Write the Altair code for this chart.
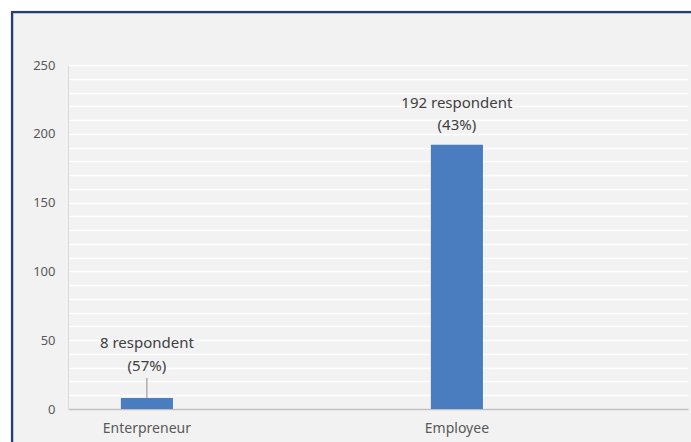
import altair as alt
import pandas as pd

categories = ["Enterpreneur", "Employee"]
values = [8, 192]
line1 = ["8 respondent", "192 respondent"]
line2 = ["(57%)", "(43%)"]

df = pd.DataFrame({
    "cat": categories,
    "value": values,
    "label": [a + "\n" + b for a, b in zip(line1, line2)],
})

FONT = "Noto Sans"
LABEL_COLOR = "#595959"

xscale = alt.Scale(domain=categories, paddingInner=0.832, paddingOuter=0.416, align=0.205)
yscale = alt.Scale(domain=[0, 250], nice=False)

x_axis = alt.Axis(title=None, labelAngle=0, labelFont=FONT, labelFontSize=14,
                  labelColor=LABEL_COLOR, labelPadding=12, ticks=False,
                  domainColor="#bfbfbf", domainWidth=1.5, grid=False)
y_axis = alt.Axis(title=None, values=list(range(0, 251, 10)),
                  labelExpr="datum.value % 50 == 0 ? datum.label : ''",
                  labelOverlap=False,
                  labelFont=FONT, labelFontSize=13, labelColor=LABEL_COLOR,
                  labelPadding=13, ticks=False, domainColor="#d9d9d9",
                  gridColor="#ffffff", gridWidth=1.5)

X = alt.X("cat:N", scale=xscale, sort=categories, axis=x_axis)
Y = alt.Y("value:Q", scale=yscale, axis=y_axis)

deco = alt.Data(values=[{"a": 1}])
frame = alt.Chart(deco).mark_rect(
    fill="#f2f2f2", fillOpacity=0, stroke="#243f74", strokeWidth=2.5, clip=False
).encode(
    x=alt.value(-56), x2=alt.value(720), y=alt.value(-53), y2=alt.value(420)
)
white_left = alt.Chart(deco).mark_rect(fill="white", clip=False).encode(
    x=alt.value(-70), x2=alt.value(-57.3), y=alt.value(-70), y2=alt.value(420)
)
white_top = alt.Chart(deco).mark_rect(fill="white", clip=False).encode(
    x=alt.value(-70), x2=alt.value(720), y=alt.value(-70), y2=alt.value(-54.3)
)

base = alt.Chart(df)

bars = base.mark_bar(color="#4a7dbf").encode(x=X, y=Y)

text_emp = base.transform_filter(alt.datum.cat == "Employee").mark_text(
    font=FONT, fontSize=15, color="#404040", baseline="middle", lineBreak="\n",
    lineHeight=22, dy=-42
).encode(x=X, y=Y, text="label:N")

text_ent = base.transform_filter(alt.datum.cat == "Enterpreneur").mark_text(
    font=FONT, fontSize=15, color="#404040", baseline="middle", lineBreak="\n",
    lineHeight=23, dy=-55
).encode(x=X, y=Y, text="label:N")

leader = base.transform_filter(alt.datum.cat == "Enterpreneur").transform_calculate(
    top="datum.value + 14.5"
).mark_rule(color="#8c8c8c", strokeWidth=1).encode(
    x=X, y=Y, y2="top:Q",
)

chart = alt.layer(bars, leader, text_emp, text_ent, frame, white_left, white_top).properties(
    width=620, height=344,
    autosize=alt.AutoSizeParams(type="none"),
    padding={"left": 68, "top": 65, "right": 3, "bottom": 33},
    background="#f2f2f2",
).configure_view(stroke=None, fill=None)

chart.save("out.html", embed_options={"renderer": "svg", "actions": False})
